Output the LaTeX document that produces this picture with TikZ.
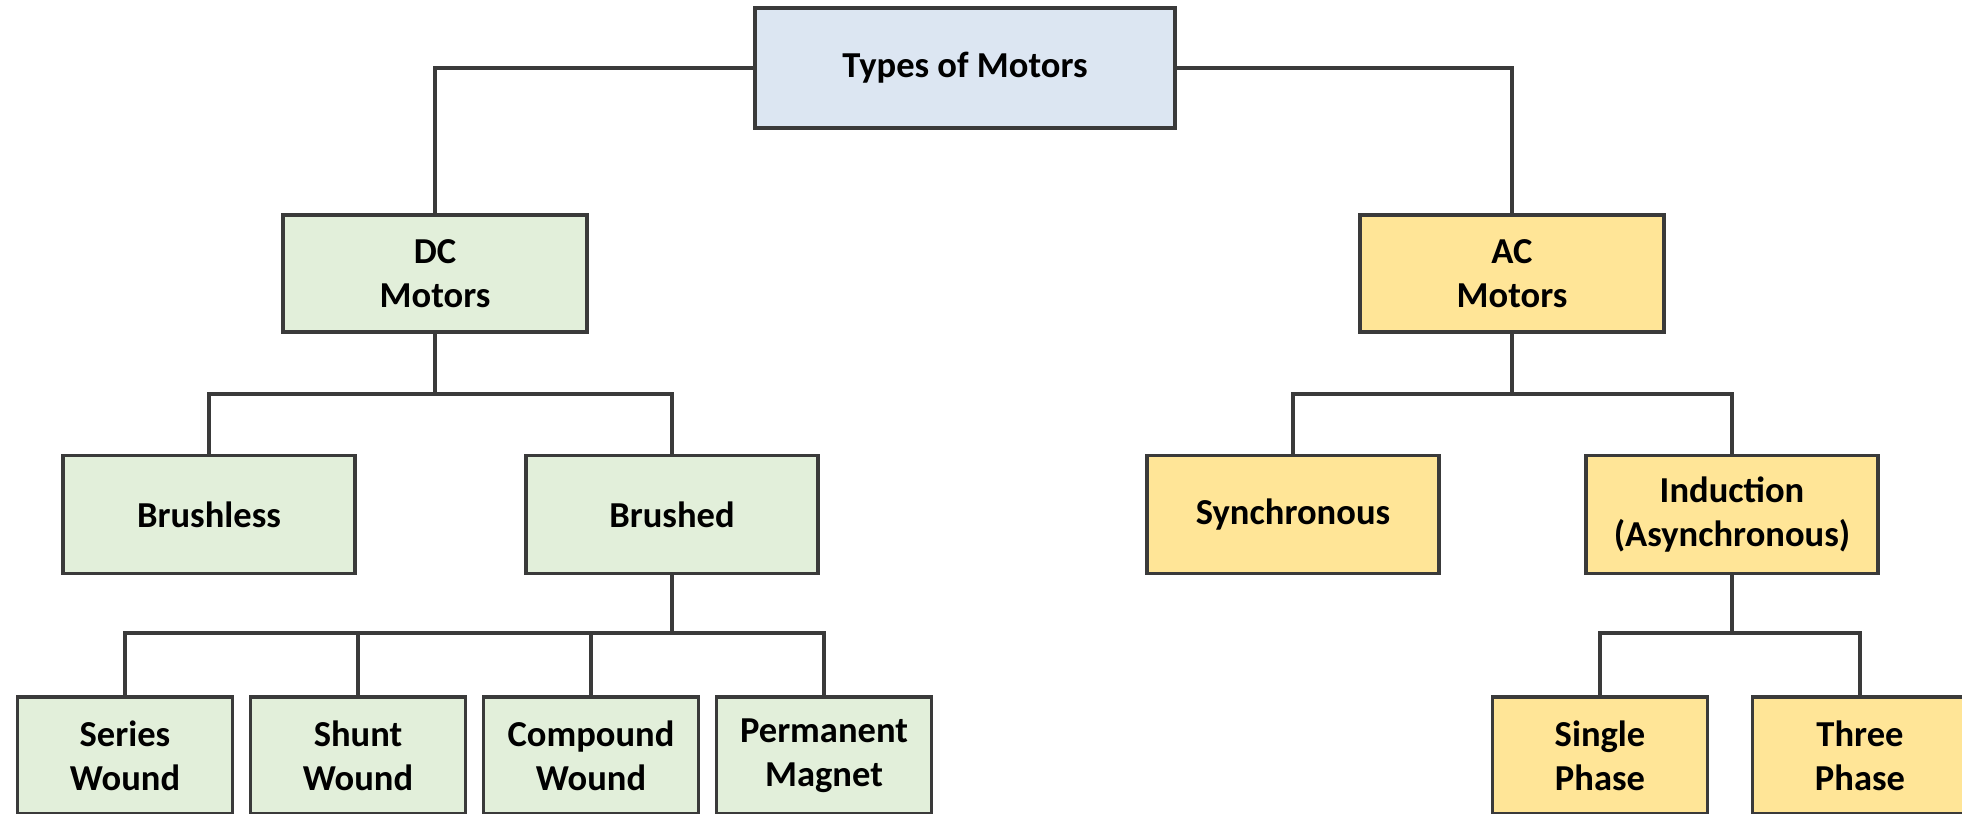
\documentclass[tikz,border=0pt]{standalone}
\usepackage{fontspec}
\setmainfont{Carlito}
\definecolor{topblue}{HTML}{DCE6F2}
\definecolor{dcgreen}{HTML}{E2EFDA}
\definecolor{acyellow}{HTML}{FFE597}
\definecolor{edge}{HTML}{3A3A3A}
\begin{document}
\begin{tikzpicture}
  [every node/.style={rectangle,draw=edge,line width=1.1pt,align=center,inner sep=0pt,
     font=\bfseries\fontsize{10.4}{12.6}\selectfont},
   conn/.style={draw=edge,line width=0.9pt},
   big/.style={minimum width=4.2cm,minimum height=1.2cm,fill=topblue},
   mid/.style={minimum width=3.04cm,minimum height=1.17cm},
   sub/.style={minimum width=2.92cm,minimum height=1.18cm},
   leaf/.style={minimum width=2.15cm,minimum height=1.17cm}]
  \useasboundingbox (0,0) rectangle (19.62,8.13);

  \node[big] (tm) at (9.65,7.45) {Types of Motors};

  \node[mid,fill=dcgreen] (dc) at (4.35,5.395) {DC\\Motors};
  \node[mid,fill=acyellow] (ac) at (15.12,5.395) {AC\\Motors};

  \node[sub,fill=dcgreen] (bl) at (2.09,2.985) {Brushless};
  \node[sub,fill=dcgreen] (bd) at (6.72,2.985) {Brushed};
  \node[sub,fill=acyellow] (sy) at (12.93,2.985) {Synchronous};
  \node[sub,fill=acyellow] (in) at (17.32,2.985) {Induction\\(Asynchronous)};

  \node[leaf,fill=dcgreen] (sw) at (1.25,0.575) {Series\\Wound};
  \node[leaf,fill=dcgreen] (sh) at (3.58,0.575) {Shunt\\Wound};
  \node[leaf,fill=dcgreen] (cw) at (5.91,0.575) {Compound\\Wound};
  \node[leaf,fill=dcgreen] (pm) at (8.24,0.575) {Permanent\\Magnet};
  \node[leaf,fill=acyellow] (sp) at (16.00,0.575) {Single\\Phase};
  \node[leaf,fill=acyellow] (tp) at (18.60,0.575) {Three\\Phase};

  % branch points
  \coordinate (jdc) at (4.35,4.19);
  \coordinate (jac) at (15.12,4.19);
  \coordinate (jbd) at (6.72,1.80);
  \coordinate (jin) at (17.32,1.80);

  \draw[conn] (tm.west) -| (dc.north);
  \draw[conn] (tm.east) -| (ac.north);

  \foreach \from/\to in {dc/jdc, ac/jac, bd/jbd, in/jin}
    \draw[conn] (\from.south) -- (\to);

  \foreach \from/\to in {jdc/bl, jdc/bd, jac/sy, jac/in, jbd/sw, jbd/sh, jbd/cw, jbd/pm, jin/sp, jin/tp}
    \draw[conn] (\from) -| (\to.north);
\end{tikzpicture}
\end{document}
